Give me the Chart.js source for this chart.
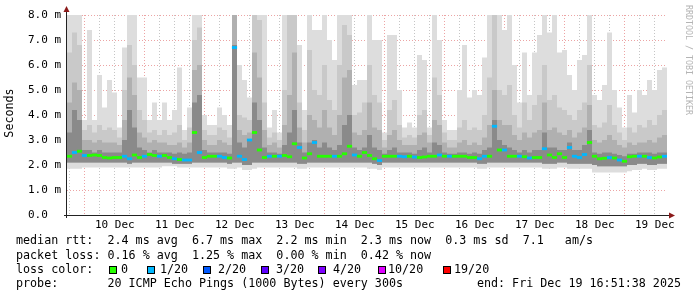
<!DOCTYPE html>
<html>
<head>
<meta charset="utf-8">
<title>SmokePing latency</title>
<script src="https://cdn.jsdelivr.net/npm/chart.js@4.4.1/dist/chart.umd.min.js"></script>
<style>
  html, body { margin: 0; padding: 0; background: #ffffff; }
  #wrap { width: 697px; height: 297px; }
</style>
</head>
<body>
<div id="wrap"><canvas id="smoke" width="697" height="297"></canvas></div>
<script>
// 10 days of 20 pings every 300s, binned to 2 hour samples (ms)
var binHours = 2;
var firstMidnight = 7.14; // hours from graph start (Dec 9 16:51:38) to Dec 10 00:00

var dayLabels = ['10 Dec', '11 Dec', '12 Dec', '13 Dec', '14 Dec', '15 Dec', '16 Dec', '17 Dec', '18 Dec', '19 Dec'];
var yTickLabels = ['0.0  ', '1.0 m', '2.0 m', '3.0 m', '4.0 m', '5.0 m', '6.0 m', '7.0 m', '8.0 m'];

var maxRtt = [
  8.1, 8.1, 8.1, 3.8, 7.4, 3.8, 5.6, 4.3, 5.4, 4.9, 3.5, 6.7, 8.1, 8.1, 5.5, 5.5, 3.8, 4.5, 3.8, 4.5,
  3.8, 4.2, 5.9, 3.4, 4.3, 8.1, 8.1, 4.0, 3.6, 3.6, 4.3, 4.0, 3.6, 8.1, 6.0, 5.4, 4.7, 8.1, 8.1, 8.1,
  3.5, 4.2, 3.3, 8.1, 8.1, 8.1, 6.8, 4.2, 8.1, 7.4, 7.4, 8.1, 7.0, 6.2, 8.1, 8.1, 8.1, 5.2, 5.4, 5.4,
  8.1, 7.0, 7.0, 3.3, 7.2, 7.2, 5.0, 3.5, 3.7, 3.5, 6.4, 6.2, 3.5, 8.1, 7.0, 3.8, 3.4, 3.4, 5.0, 6.8,
  4.7, 5.0, 4.8, 6.3, 8.1, 8.1, 8.1, 7.4, 8.1, 6.0, 4.5, 6.5, 4.8, 6.5, 7.2, 8.1, 7.3, 8.0, 6.5, 6.6,
  5.6, 5.0, 6.2, 6.4, 8.1, 4.8, 4.6, 5.2, 7.3, 5.0, 4.3, 3.5, 4.8, 4.1, 5.0, 4.8, 5.4, 5.0, 5.8, 5.9
];
var p90Rtt = [
  6.5, 7.3, 6.8, 3.4, 3.6, 3.3, 3.6, 3.4, 3.5, 3.4, 3.1, 5.0, 6.8, 6.0, 4.2, 3.8, 3.3, 3.4, 3.2, 3.4,
  3.2, 3.3, 3.6, 3.0, 3.5, 7.0, 7.5, 3.4, 3.2, 3.2, 3.5, 3.4, 3.1, 8.1, 4.0, 3.9, 3.8, 8.1, 7.8, 4.5,
  3.1, 3.3, 3.0, 5.0, 8.1, 8.1, 4.5, 3.4, 6.6, 5.0, 4.8, 6.0, 4.6, 4.2, 6.0, 7.6, 7.2, 4.0, 4.1, 4.5,
  6.0, 4.8, 4.5, 3.0, 4.2, 4.6, 3.6, 3.1, 3.2, 3.1, 4.0, 4.2, 3.2, 5.5, 4.8, 3.3, 3.0, 3.0, 3.5, 3.8,
  3.4, 3.5, 3.4, 4.0, 5.5, 8.1, 5.0, 4.8, 5.2, 4.0, 3.5, 4.5, 3.8, 4.4, 4.8, 6.0, 4.6, 4.8, 4.3, 4.2,
  4.0, 3.8, 4.2, 4.5, 6.0, 3.6, 3.5, 3.7, 4.4, 3.6, 3.3, 3.0, 3.5, 3.3, 3.6, 3.5, 3.8, 3.6, 4.0, 4.2
];
var p75Rtt = [
  4.5, 5.3, 5.0, 3.0, 3.0, 2.9, 3.0, 2.9, 2.9, 2.9, 2.8, 3.8, 5.5, 4.8, 3.3, 3.1, 2.9, 3.0, 2.9, 2.9,
  2.8, 2.8, 2.9, 2.7, 2.9, 5.8, 6.0, 3.0, 2.8, 2.8, 3.0, 2.9, 2.8, 8.1, 3.4, 3.2, 3.3, 6.5, 5.5, 3.4,
  2.8, 2.9, 2.7, 3.6, 4.8, 6.5, 3.5, 2.9, 4.0, 3.8, 3.5, 4.2, 3.5, 3.2, 4.0, 5.5, 5.8, 3.3, 3.2, 3.4,
  4.5, 3.5, 3.4, 2.7, 3.2, 3.4, 3.0, 2.8, 2.8, 2.8, 3.2, 3.3, 2.9, 3.8, 3.6, 2.9, 2.7, 2.7, 2.9, 3.0,
  2.8, 2.9, 2.8, 3.1, 3.6, 5.0, 3.8, 3.6, 3.6, 3.2, 3.0, 3.3, 3.1, 3.3, 3.4, 4.5, 3.4, 3.5, 3.3, 3.2,
  3.4, 3.1, 3.3, 3.5, 4.4, 3.0, 2.9, 3.0, 3.2, 3.0, 2.8, 2.7, 2.9, 2.8, 2.9, 2.9, 3.0, 2.9, 3.1, 3.2
];
var p60Rtt = [
  3.3, 4.2, 3.8, 2.6, 2.6, 2.5, 2.6, 2.5, 2.5, 2.5, 2.5, 3.0, 4.2, 3.5, 2.7, 2.6, 2.5, 2.6, 2.5, 2.5,
  2.5, 2.45, 2.5, 2.45, 2.5, 4.5, 4.8, 2.6, 2.5, 2.5, 2.5, 2.5, 2.45, 6.8, 2.9, 2.7, 3.0, 4.5, 3.8, 2.7,
  2.5, 2.5, 2.45, 2.8, 3.3, 4.2, 2.9, 2.5, 2.9, 3.0, 2.7, 2.9, 2.7, 2.6, 2.8, 3.6, 4.0, 2.7, 2.6, 2.7,
  3.2, 2.7, 2.6, 2.45, 2.6, 2.7, 2.5, 2.5, 2.5, 2.45, 2.6, 2.7, 2.5, 2.9, 2.8, 2.5, 2.45, 2.45, 2.5, 2.5,
  2.45, 2.5, 2.45, 2.6, 2.7, 3.8, 3.0, 2.8, 2.7, 2.6, 2.5, 2.6, 2.5, 2.6, 2.6, 3.3, 2.7, 2.7, 2.6, 2.6,
  2.9, 2.6, 2.6, 2.8, 3.4, 2.5, 2.45, 2.5, 2.5, 2.45, 2.4, 2.35, 2.45, 2.45, 2.5, 2.5, 2.5, 2.45, 2.5, 2.5
];
var lowRtt = [
  2.1, 2.1, 2.1, 2.1, 2.1, 2.1, 2.1, 2.1, 2.1, 2.1, 2.1, 2.1, 2.05, 2.1, 2.1, 2.1, 2.1, 2.1, 2.1, 2.1,
  2.1, 2.05, 2.05, 2.05, 2.05, 2.1, 2.1, 2.1, 2.1, 2.1, 2.1, 2.1, 2.05, 2.1, 2.1, 2.0, 2.0, 2.1, 2.1, 2.1,
  2.1, 2.1, 2.1, 2.1, 2.1, 2.1, 2.05, 2.05, 2.1, 2.1, 2.1, 2.1, 2.1, 2.1, 2.1, 2.1, 2.1, 2.1, 2.1, 2.1,
  2.1, 2.05, 2.0, 2.1, 2.1, 2.1, 2.1, 2.1, 2.1, 2.1, 2.1, 2.1, 2.1, 2.1, 2.1, 2.1, 2.1, 2.1, 2.1, 2.1,
  2.1, 2.1, 2.05, 2.05, 2.1, 2.1, 2.1, 2.1, 2.1, 2.1, 2.1, 2.1, 2.1, 2.1, 2.1, 2.05, 2.05, 2.05, 2.1, 2.1,
  2.05, 2.05, 2.05, 2.05, 2.05, 2.0, 1.95, 1.95, 1.95, 1.95, 1.95, 1.95, 2.0, 2.0, 2.05, 2.05, 2.0, 2.0, 2.05, 2.05
];
var minRtt = [
  1.85, 1.85, 1.85, 1.9, 1.9, 1.9, 1.9, 1.9, 1.9, 1.9, 1.9, 1.9, 1.9, 1.9, 1.9, 1.9, 1.9, 1.9, 1.9, 1.95,
  1.95, 1.95, 1.9, 1.9, 1.9, 1.9, 1.9, 1.9, 1.9, 1.9, 1.9, 1.9, 1.85, 1.85, 1.9, 1.8, 1.8, 1.85, 1.9, 1.9,
  1.9, 1.9, 1.9, 1.9, 1.9, 1.9, 1.85, 1.85, 1.9, 1.9, 1.9, 1.9, 1.9, 1.9, 1.9, 1.9, 1.9, 1.9, 1.9, 1.9,
  1.85, 1.85, 1.8, 1.9, 1.9, 1.9, 1.9, 1.9, 1.9, 1.9, 1.9, 1.9, 1.9, 1.9, 1.9, 1.9, 1.9, 1.9, 1.9, 1.9,
  1.9, 1.9, 1.85, 1.85, 1.9, 1.9, 1.9, 1.9, 1.9, 1.9, 1.9, 1.9, 1.9, 1.9, 1.9, 1.85, 1.85, 1.85, 1.9, 1.9,
  1.85, 1.85, 1.85, 1.85, 1.85, 1.7, 1.7, 1.7, 1.7, 1.7, 1.7, 1.7, 1.75, 1.8, 1.8, 1.85, 1.8, 1.8, 1.85, 1.85
];
var medianRtt = [
  2.35, 2.5, 2.55, 2.38, 2.38, 2.4, 2.38, 2.3, 2.28, 2.3, 2.3, 2.35, 2.25, 2.4, 2.3, 2.35, 2.42, 2.38, 2.35, 2.38,
  2.3, 2.25, 2.22, 2.2, 2.2, 3.3, 2.5, 2.3, 2.35, 2.35, 2.35, 2.3, 2.28, 6.7, 2.35, 2.22, 3.0, 3.3, 2.6, 2.3,
  2.35, 2.35, 2.35, 2.38, 2.33, 2.85, 2.7, 2.28, 2.45, 2.9, 2.35, 2.35, 2.35, 2.35, 2.35, 2.45, 2.75, 2.4, 2.35, 2.5,
  2.38, 2.25, 2.18, 2.35, 2.35, 2.35, 2.35, 2.33, 2.35, 2.32, 2.3, 2.32, 2.35, 2.35, 2.4, 2.35, 2.35, 2.35, 2.35, 2.35,
  2.3, 2.3, 2.25, 2.35, 2.35, 3.55, 2.6, 2.6, 2.35, 2.35, 2.35, 2.33, 2.28, 2.3, 2.3, 2.65, 2.4, 2.3, 2.45, 2.3,
  2.7, 2.35, 2.3, 2.42, 2.9, 2.35, 2.25, 2.27, 2.3, 2.28, 2.2, 2.15, 2.33, 2.35, 2.35, 2.35, 2.3, 2.28, 2.32, 2.35
];
// lost pings out of 20 per sample
var lossCount = [
  0, 1, 0, 1, 0, 0, 0, 0, 0, 0, 0, 1, 1, 0, 0, 1, 0, 0, 1, 0,
  0, 1, 0, 1, 1, 0, 1, 0, 0, 0, 1, 1, 0, 1, 1, 1, 1, 0, 0, 0,
  1, 0, 1, 0, 0, 0, 1, 0, 0, 1, 0, 0, 0, 1, 0, 0, 0, 1, 0, 0,
  0, 0, 1, 0, 0, 0, 1, 1, 0, 1, 0, 0, 0, 0, 1, 0, 1, 0, 0, 0,
  0, 0, 1, 1, 0, 1, 0, 1, 0, 0, 1, 0, 1, 0, 0, 1, 0, 0, 0, 0,
  1, 1, 1, 1, 0, 0, 0, 0, 1, 0, 1, 0, 0, 0, 1, 0, 1, 0, 0, 1
];

var lossSteps = [0, 1, 2, 3, 4, 10, 19];
var lossLabels = ['0', '1/20', '2/20', '3/20', '4/20', '10/20', '19/20'];
var lossColors = ['#26ff00', '#00b8ff', '#0059ff', '#5e00ff', '#7e00ff', '#dd00ff', '#ff0000'];

var legendLines = [
  'median rtt:  2.4 ms avg  6.7 ms max  2.2 ms min  2.3 ms now  0.3 ms sd  7.1   am/s',
  'packet loss: 0.16 % avg  1.25 % max  0.00 % min  0.42 % now',
  'loss color:',
  'probe:       20 ICMP Echo Pings (1000 Bytes) every 300s'
];
var endLabel = 'end: Fri Dec 19 16:51:38 2025';

function lossColor(n) {
  var c = lossColors[0];
  lossSteps.forEach(function (s, k) { if (n >= s) c = lossColors[k]; });
  return c;
}

function spanBars(lo, hi) {
  return hi.map(function (v, i) {
    return { x: i * binHours + binHours / 2, y: [lo[i], v] };
  });
}

function smokeBand(lo, hi, color, order) {
  return {
    type: 'bar',
    data: spanBars(lo, hi),
    backgroundColor: color,
    borderWidth: 0,
    barPercentage: 1,
    categoryPercentage: 1,
    grouped: false,
    inflateAmount: 0,
    clip: 0,
    order: order
  };
}

// which 6h grid step a tick value is, counted from Dec 10 00:00
function gridStep(v) {
  return Math.round((v - firstMidnight) / 6);
}

var decorations = {
  id: 'decorations',
  afterDraw: function (chart) {
    var ctx = chart.ctx;
    var area = chart.chartArea;
    ctx.save();

    // axes with arrow heads
    ctx.strokeStyle = '#222222';
    ctx.lineWidth = 1;
    ctx.beginPath();
    ctx.moveTo(area.left - 0.5, area.bottom + 3);
    ctx.lineTo(area.left - 0.5, area.top - 4);
    ctx.moveTo(area.left - 3, area.bottom + 0.5);
    ctx.lineTo(area.right + 3, area.bottom + 0.5);
    ctx.stroke();
    ctx.fillStyle = '#8b1a1a';
    ctx.beginPath();
    ctx.moveTo(area.left - 3.5, area.top - 3);
    ctx.lineTo(area.left + 2.5, area.top - 3);
    ctx.lineTo(area.left - 0.5, area.top - 9);
    ctx.closePath();
    ctx.fill();
    ctx.beginPath();
    ctx.moveTo(area.right + 2, area.bottom - 2.5);
    ctx.lineTo(area.right + 2, area.bottom + 3.5);
    ctx.lineTo(area.right + 8, area.bottom + 0.5);
    ctx.closePath();
    ctx.fill();

    // vertical axis title
    ctx.fillStyle = '#000000';
    ctx.font = '11.7px "DejaVu Sans Mono"';
    ctx.textAlign = 'center';
    ctx.textBaseline = 'middle';
    ctx.save();
    ctx.translate(10, 113);
    ctx.rotate(-Math.PI / 2);
    ctx.fillText('Seconds', 0, 0);
    ctx.restore();

    // watermark
    ctx.save();
    ctx.fillStyle = '#b4b4b4';
    ctx.font = '8.3px "DejaVu Sans Mono"';
    ctx.textAlign = 'left';
    ctx.translate(688, 5);
    ctx.rotate(Math.PI / 2);
    ctx.fillText('RRDTOOL / TOBI OETIKER', 0, 0);
    ctx.restore();

    // legend block
    ctx.font = '11.7px "DejaVu Sans Mono"';
    ctx.textAlign = 'left';
    ctx.fillStyle = '#000000';
    var rows = [241, 255.5, 269.5, 284];
    legendLines.forEach(function (t, k) { ctx.fillText(t, 16, rows[k]); });
    ctx.textAlign = 'right';
    ctx.fillText(endLabel, 681, rows[3]);

    var boxX = [109, 147, 203, 261, 318, 378, 443];
    var textX = [121, 160, 218, 276, 333, 388, 454];
    ctx.textAlign = 'left';
    lossLabels.forEach(function (lbl, k) {
      ctx.fillStyle = lossColors[k];
      ctx.fillRect(boxX[k], rows[2] - 3.5, 7, 7);
      ctx.strokeStyle = '#000000';
      ctx.strokeRect(boxX[k] + 0.5, rows[2] - 3.5 + 0.5, 7, 7);
      ctx.fillStyle = '#000000';
      ctx.fillText(lbl, textX[k], rows[2]);
    });
    ctx.restore();
  }
};

Chart.defaults.font.family = '"DejaVu Sans Mono", monospace';
Chart.defaults.font.size = 11;
Chart.defaults.color = '#000000';

new Chart(document.getElementById('smoke'), {
  type: 'bar',
  data: {
    datasets: [
      {
        type: 'line',
        label: 'median rtt',
        data: medianRtt.map(function (v, i) { return { x: i * binHours + binHours / 2, y: v }; }),
        showLine: false,
        pointStyle: 'line',
        pointRadius: 2.6,
        pointBorderWidth: 2.8,
        pointBorderColor: lossCount.map(lossColor),
        pointBackgroundColor: lossCount.map(lossColor),
        clip: 0,
        order: 0
      },
      smokeBand(lowRtt, p60Rtt, '#8a8a8a', 1),
      smokeBand(lowRtt, p75Rtt, '#b0b0b0', 2),
      smokeBand(lowRtt, p90Rtt, '#c9c9c9', 3),
      smokeBand(minRtt, maxRtt, '#dddddd', 4)
    ]
  },
  options: {
    responsive: false,
    animation: false,
    devicePixelRatio: 1,
    layout: { padding: { left: 0, top: 15, right: 30, bottom: 62 } },
    plugins: { legend: { display: false }, tooltip: { enabled: false } },
    scales: {
      x: {
        type: 'linear',
        min: 0,
        max: 240,
        offset: false,
        z: 1,
        border: { display: false, dash: [1, 2] },
        grid: {
          offset: false,
          drawTicks: false,
          color: function (c) {
            return gridStep(c.tick.value) % 4 === 0 ? 'rgba(220,90,90,0.55)' : 'rgba(150,150,150,0.55)';
          }
        },
        afterBuildTicks: function (scale) {
          var ticks = [];
          for (var h = firstMidnight - 6; h <= 240; h += 6) {
            if (h > 0) ticks.push({ value: h });
          }
          scale.ticks = ticks;
        },
        afterFit: function (scale) { scale.height = 20; },
        ticks: {
          autoSkip: false,
          maxRotation: 0,
          padding: 4,
          callback: function (v) {
            var k = gridStep(v);
            return (k >= 0 && k % 4 === 2) ? dayLabels[(k - 2) / 4] : '';
          }
        }
      },
      y: {
        type: 'linear',
        min: 0,
        max: 8,
        z: 1,
        border: { display: false, dash: [1, 2] },
        grid: {
          drawTicks: false,
          color: function (c) {
            return Number.isInteger(c.tick.value) ? 'rgba(220,90,90,0.55)' : 'rgba(150,150,150,0.55)';
          }
        },
        afterFit: function (scale) { scale.width = 67; },
        ticks: {
          stepSize: 0.5,
          padding: 6,
          callback: function (v) {
            return Number.isInteger(v) ? yTickLabels[v] : '';
          }
        }
      }
    }
  },
  plugins: [decorations]
});
</script>
</body>
</html>
